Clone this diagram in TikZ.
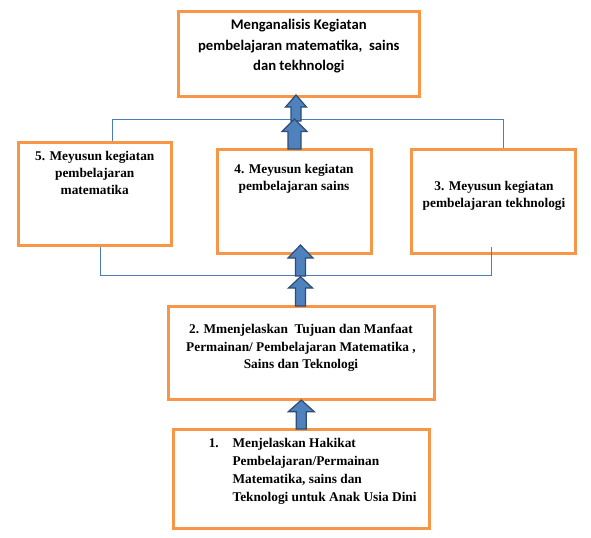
\documentclass[tikz,border=0pt]{standalone}
\usepackage{fontspec}
\setmainfont{Liberation Serif}
\newfontfamily\calfont{Carlito}
\usetikzlibrary{fit}
\definecolor{orng}{HTML}{F79646}
\definecolor{lblue}{HTML}{4A7EBB}
\definecolor{afill}{HTML}{4F81BD}
\definecolor{adraw}{HTML}{2C4D75}
\tikzset{
  box/.style={draw=orng, line width=2.25pt, fill=white, inner sep=0pt},
  conn/.style={draw=lblue, line width=0.75pt},
  arr/.style={fill=afill, draw=adraw, line width=0.9pt, line join=miter},
  txt/.style={font=\bfseries\fontsize{10pt}{13pt}\selectfont, align=center, inner sep=0pt, anchor=north},
  ttl/.style={font=\calfont\bfseries\fontsize{11pt}{15.5pt}\selectfont, align=center, inner sep=0pt, anchor=north}
}
\newcommand{\barrow}[6]{\draw[arr] (#1,#2) -- (#1+#5,#3) -- (#1+#6,#3) -- (#1+#6,#4) -- (#1-#6,#4) -- (#1-#6,#3) -- (#1-#5,#3) -- cycle;}
\begin{document}
\begin{tikzpicture}[x=0.75pt,y=-0.75pt]
\useasboundingbox[fill=white] (0,0) rectangle (591,537);
% connectors (behind)
\coordinate (t5) at (112.5,119.3);
\coordinate (t3) at (503.3,119.3);
\coordinate (c5) at (100,275);
\coordinate (c3) at (491.7,275);
\coordinate (e3) at (491.7,246.5);
% boxes
\node[box, fit={(178.5,11) (419,96)}] (top) {};
\node[box, fit={(18,142) (171.5,245.5)}] (b5) {};
\node[box, fit={(217,149) (371,253.5)}] (b4) {};
\node[box, fit={(411,149) (575,253.5)}] (b3) {};
\node[box, fit={(168,306.5) (434,399)}] (b2) {};
\node[box, fit={(173.5,429) (429,528)}] (b1) {};
\draw[conn] (b5.north -| t5) -- (t5) -- (t3) -- (b3.north -| t3);
\draw[conn] (b5.south -| c5) -- (c5) -- (c3) -- (e3);
% texts
\node[ttl] (ttop) at (298.8,19) {Menganalisis Kegiatan\\pembelajaran matematika,\ \ sains\\dan tekhnologi};
\node[txt] (t5txt) at (94.75,150.5) {5. Meyusun kegiatan\\pembelajaran\\matematika};
\node[txt] (t4txt) at (294,164) {4. Meyusun kegiatan\\pembelajaran sains};
\node[txt] (t3txt) at (494,181) {3. Meyusun kegiatan\\pembelajaran tekhnologi};
\node[txt] (t2txt) at (301,324.3) {2. Mmenjelaskan\ \ Tujuan dan Manfaat\\Permainan/ Pembelajaran Matematika ,\\Sains dan Teknologi};
\node[txt, anchor=north west, align=left, font=\bfseries\fontsize{10pt}{13.3pt}\selectfont] (t1txt) at (232.3,438.3) {Menjelaskan Hakikat\\Pembelajaran/Permainan\\Matematika, sains dan\\Teknologi untuk Anak Usia Dini};
\node[txt, anchor=north west, font=\bfseries\fontsize{10pt}{13.3pt}\selectfont] (t1num) at (208.5,438.3) {1.};
% block arrows
\barrow{296}{95}{107}{121}{10.5}{5}
\barrow{294.5}{119}{131.5}{149}{12.5}{6.5}
\barrow{300.5}{245}{258}{276}{12.5}{5}
\barrow{300.5}{276.7}{288}{306}{12}{5}
\barrow{301.3}{400}{411.7}{429}{13}{5}
\end{tikzpicture}
\end{document}
